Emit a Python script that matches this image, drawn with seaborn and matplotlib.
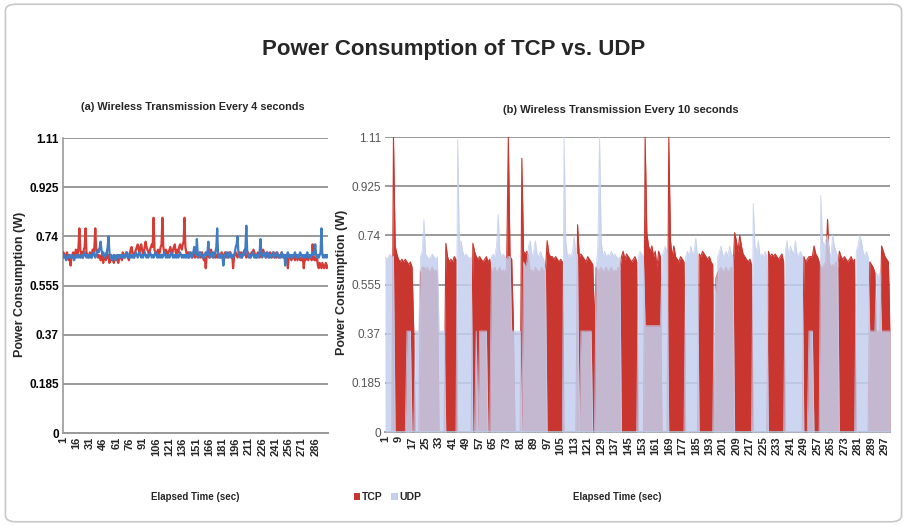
import matplotlib
matplotlib.use('Agg')
import matplotlib.pyplot as plt
import seaborn as sns
import pandas as pd
from matplotlib.patches import FancyBboxPatch, Patch

sns.set_theme(style='white')
plt.rcParams['font.family'] = ['Liberation Sans Narrow', 'Liberation Sans', 'DejaVu Sans']

# ---------------- data ----------------
TITLE = "Power Consumption of TCP vs. UDP"
SUB_A = "(a) Wireless Transmission Every 4 seconds"
SUB_B = "(b) Wireless Transmission Every 10 seconds"
XLABEL = "Elapsed Time (sec)"
YLABEL = "Power Consumption (W)"
SERIES = ["TCP", "UDP"]

Y_TICKS = [0, 0.185, 0.37, 0.555, 0.74, 0.925, 1.11]
Y_TICK_LABELS = ["0", "0.185", "0.37", "0.555", "0.74", "0.925", "1.11"]

X_TICKS_A = [1, 16, 31, 46, 61, 76, 91, 106, 121, 136, 151, 166, 181, 196,
             211, 226, 241, 256, 271, 286]
X_TICKS_B = [1, 9, 17, 25, 33, 41, 49, 57, 65, 73, 81, 89, 97, 105, 113, 121,
             129, 137, 145, 153, 161, 169, 177, 185, 193, 201, 209, 217, 225,
             233, 241, 249, 257, 265, 273, 281, 289, 297]

TCP_A = [
    0.68, 0.67, 0.66, 0.67, 0.68, 0.66, 0.65, 0.67, 0.63, 0.66, 0.67, 0.68, 0.66, 0.67, 0.69, 0.68, 0.67, 0.70, 0.77, 0.69,
    0.67, 0.68, 0.66, 0.69, 0.70, 0.77, 0.68, 0.67, 0.66, 0.67, 0.68, 0.67, 0.66, 0.69, 0.68, 0.70, 0.77, 0.69, 0.67, 0.66,
    0.67, 0.66, 0.65, 0.67, 0.66, 0.64, 0.67, 0.66, 0.65, 0.68, 0.66, 0.67, 0.64, 0.66, 0.67, 0.65, 0.66, 0.64, 0.67, 0.66,
    0.65, 0.67, 0.64, 0.66, 0.67, 0.66, 0.65, 0.68, 0.67, 0.66, 0.67, 0.68, 0.67, 0.66, 0.65, 0.67, 0.69, 0.70, 0.68, 0.67,
    0.66, 0.68, 0.69, 0.70, 0.71, 0.69, 0.68, 0.70, 0.71, 0.69, 0.67, 0.68, 0.70, 0.72, 0.70, 0.69, 0.68, 0.67, 0.69, 0.70,
    0.71, 0.70, 0.81, 0.69, 0.68, 0.67, 0.68, 0.69, 0.67, 0.68, 0.70, 0.71, 0.81, 0.70, 0.68, 0.67, 0.69, 0.68, 0.67, 0.68,
    0.69, 0.70, 0.68, 0.67, 0.69, 0.70, 0.71, 0.68, 0.67, 0.69, 0.68, 0.70, 0.71, 0.70, 0.69, 0.71, 0.72, 0.81, 0.70, 0.68,
    0.67, 0.68, 0.66, 0.67, 0.68, 0.67, 0.66, 0.68, 0.67, 0.66, 0.67, 0.68, 0.66, 0.67, 0.68, 0.66, 0.67, 0.68, 0.66, 0.65,
    0.66, 0.62, 0.66, 0.67, 0.68, 0.66, 0.67, 0.69, 0.67, 0.66, 0.68, 0.67, 0.66, 0.67, 0.66, 0.68, 0.67, 0.66, 0.67, 0.68,
    0.67, 0.66, 0.67, 0.68, 0.66, 0.67, 0.68, 0.66, 0.67, 0.68, 0.66, 0.67, 0.62, 0.66, 0.67, 0.68, 0.67, 0.66, 0.67, 0.68,
    0.67, 0.68, 0.66, 0.67, 0.68, 0.69, 0.67, 0.66, 0.67, 0.68, 0.67, 0.66, 0.67, 0.68, 0.67, 0.69, 0.68, 0.67, 0.66, 0.67,
    0.68, 0.67, 0.66, 0.67, 0.68, 0.67, 0.69, 0.68, 0.67, 0.66, 0.68, 0.67, 0.66, 0.67, 0.68, 0.67, 0.66, 0.67, 0.68, 0.66,
    0.67, 0.66, 0.68, 0.67, 0.66, 0.67, 0.66, 0.68, 0.67, 0.66, 0.67, 0.66, 0.67, 0.66, 0.62, 0.66, 0.67, 0.66, 0.65, 0.66,
    0.67, 0.66, 0.65, 0.67, 0.66, 0.65, 0.67, 0.66, 0.65, 0.66, 0.65, 0.66, 0.62, 0.66, 0.65, 0.67, 0.66, 0.65, 0.66, 0.67,
    0.66, 0.65, 0.71, 0.67, 0.65, 0.66, 0.65, 0.66, 0.63, 0.62, 0.64, 0.63, 0.62, 0.64, 0.63, 0.62, 0.63, 0.64, 0.62, 0.63,
]

UDP_A = [
    0.66, 0.67, 0.66, 0.65, 0.66, 0.67, 0.66, 0.67, 0.66, 0.66, 0.67, 0.66, 0.65, 0.66, 0.67, 0.66, 0.67, 0.66, 0.67, 0.66,
    0.66, 0.67, 0.66, 0.67, 0.68, 0.67, 0.66, 0.67, 0.66, 0.67, 0.66, 0.67, 0.66, 0.67, 0.68, 0.67, 0.66, 0.67, 0.68, 0.69,
    0.68, 0.70, 0.72, 0.69, 0.67, 0.68, 0.67, 0.66, 0.67, 0.68, 0.70, 0.74, 0.68, 0.66, 0.67, 0.65, 0.66, 0.67, 0.66, 0.65,
    0.66, 0.67, 0.66, 0.67, 0.66, 0.67, 0.66, 0.67, 0.66, 0.67, 0.66, 0.67, 0.68, 0.67, 0.66, 0.67, 0.66, 0.67, 0.66, 0.67,
    0.66, 0.67, 0.68, 0.67, 0.66, 0.67, 0.68, 0.67, 0.66, 0.67, 0.66, 0.67, 0.68, 0.67, 0.66, 0.67, 0.66, 0.67, 0.68, 0.67,
    0.66, 0.67, 0.66, 0.67, 0.68, 0.67, 0.66, 0.67, 0.66, 0.67, 0.66, 0.67, 0.66, 0.67, 0.68, 0.67, 0.66, 0.67, 0.66, 0.67,
    0.66, 0.67, 0.68, 0.67, 0.66, 0.67, 0.66, 0.67, 0.66, 0.67, 0.66, 0.67, 0.68, 0.67, 0.66, 0.67, 0.66, 0.67, 0.66, 0.67,
    0.66, 0.67, 0.66, 0.68, 0.67, 0.66, 0.67, 0.68, 0.70, 0.68, 0.67, 0.73, 0.67, 0.66, 0.67, 0.68, 0.67, 0.66, 0.67, 0.66,
    0.67, 0.68, 0.67, 0.68, 0.72, 0.67, 0.66, 0.67, 0.68, 0.67, 0.66, 0.67, 0.68, 0.70, 0.77, 0.67, 0.66, 0.67, 0.66, 0.67,
    0.66, 0.63, 0.66, 0.67, 0.68, 0.67, 0.66, 0.67, 0.68, 0.67, 0.66, 0.67, 0.66, 0.67, 0.68, 0.70, 0.71, 0.74, 0.68, 0.67,
    0.66, 0.67, 0.66, 0.67, 0.68, 0.67, 0.70, 0.78, 0.68, 0.67, 0.66, 0.67, 0.66, 0.67, 0.68, 0.67, 0.66, 0.67, 0.66, 0.67,
    0.66, 0.67, 0.68, 0.73, 0.67, 0.66, 0.67, 0.68, 0.67, 0.66, 0.67, 0.68, 0.67, 0.66, 0.67, 0.66, 0.67, 0.68, 0.67, 0.66,
    0.67, 0.68, 0.67, 0.66, 0.67, 0.66, 0.67, 0.68, 0.67, 0.66, 0.67, 0.63, 0.66, 0.67, 0.68, 0.67, 0.66, 0.67, 0.66, 0.67,
    0.66, 0.67, 0.68, 0.67, 0.66, 0.67, 0.66, 0.67, 0.68, 0.67, 0.66, 0.67, 0.66, 0.67, 0.66, 0.67, 0.68, 0.67, 0.66, 0.67,
    0.66, 0.67, 0.68, 0.67, 0.68, 0.71, 0.67, 0.66, 0.67, 0.66, 0.67, 0.68, 0.77, 0.67, 0.66, 0.67, 0.66, 0.67, 0.66, 0.67,
]

TCP_B = [
    0, 0, 0, 0, 0, 1.11, 0.70, 0.67, 0.65, 0.64,
    0.65, 0.64, 0.65, 0.64, 0.63, 0.64, 0.62, 0.38, 0, 0,
    0, 0.60, 0.62, 0.62, 0.61, 0.62, 0.60, 0.61, 0.62, 0.60,
    0.61, 0.60, 0, 0, 0, 0, 0.71, 0.66, 0.64, 0.65,
    0.64, 0.66, 0.65, 0, 0, 0, 0, 0, 0, 0,
    0, 0, 0.71, 0.68, 0.66, 0.65, 0.66, 0.65, 0.64, 0.65,
    0.66, 0.64, 0.65, 0.60, 0.61, 0.62, 0.60, 0.61, 0.62, 0.60,
    0.61, 0.60, 0.62, 1.11, 0.66, 0.65, 0.40, 0, 0, 0,
    0, 1.03, 0.68, 0.67, 0.68, 0.66, 0.60, 0.61, 0.60, 0.62,
    0.61, 0.60, 0.61, 0.62, 0.60, 0.61, 0.72, 0.67, 0.66, 0.66,
    0.65, 0.66, 0.65, 0.64, 0.65, 0.64, 0, 0, 0, 0,
    0, 0, 0, 0, 0.78, 0.66, 0.67, 0.66, 0.65, 0.64,
    0.66, 0.65, 0.64, 0.63, 0.40, 0.62, 0.60, 0.61, 0.62, 0.60,
    0.61, 0.62, 0.60, 0.61, 0.62, 0.60, 0.61, 0.60, 0.62, 0.61,
    0.66, 0.68, 0.65, 0.67, 0.66, 0.65, 0.64, 0.65, 0.66, 0.64,
    0, 0, 0, 0, 1.11, 0.75, 0.70, 0.68, 0.70, 0.66,
    0.68, 0.62, 0.68, 0.66, 0, 0, 0, 0, 1.11, 0.72,
    0.66, 0.70, 0.66, 0.65, 0.64, 0.66, 0.65, 0.64, 0, 0,
    0, 0, 0, 0, 0, 0, 0.67, 0.66, 0.68, 0.67,
    0.66, 0.65, 0.66, 0.64, 0.63, 0, 0.58, 0.60, 0.61, 0.62,
    0.60, 0.61, 0.62, 0.60, 0.61, 0.62, 0.60, 0.75, 0.72, 0.68,
    0.74, 0.70, 0.67, 0.66, 0.65, 0.64, 0.65, 0.63, 0, 0,
    0, 0, 0, 0, 0, 0, 0, 0.68, 0.66, 0.67,
    0.66, 0.67, 0.66, 0.65, 0.66, 0.67, 0.64, 0, 0, 0,
    0, 0, 0, 0, 0, 0, 0, 0, 0.66, 0.64,
    0.65, 0.66, 0.66, 0.66, 0.70, 0.67, 0.66, 0.64, 0.62, 0.62,
    0.63, 0.64, 0.80, 0.64, 0.62, 0.63, 0.62, 0.64, 0.62, 0.68,
    0.66, 0.65, 0.66, 0.65, 0.64, 0.65, 0.66, 0.64, 0.65, 0,
    0, 0, 0, 0, 0, 0, 0, 0.64, 0.63, 0.62,
    0.60, 0.38, 0.38, 0.38, 0.70, 0.68, 0.66, 0.65, 0.64, 0.38,
]

UDP_B = [
    0.66, 0.65, 0.66, 0.67, 0.66, 0.66, 0, 0, 0, 0,
    0, 0, 0, 0.38, 0.38, 0.38, 0, 0, 0.38, 0.38,
    0.38, 0.66, 0.68, 0.80, 0.67, 0.66, 0.65, 0.66, 0.67, 0.66,
    0.65, 0.66, 0.38, 0.38, 0.38, 0.38, 0, 0, 0, 0,
    0, 0, 0, 1.10, 0.70, 0.72, 0.68, 0.66, 0.67, 0.66,
    0.65, 0.66, 0, 0, 0.38, 0, 0.38, 0.38, 0.38, 0.38,
    0.38, 0, 0, 0.66, 0.67, 0.66, 0.70, 0.82, 0.68, 0.66,
    0.67, 0.66, 0.65, 0.66, 0.66, 0.38, 0.38, 0.38, 0.38, 0.38,
    0.38, 0, 0.64, 0.62, 0.64, 0.70, 0.72, 0.66, 0.68, 0.72,
    0.67, 0.66, 0.68, 0.66, 0.65, 0.60, 0, 0, 0, 0,
    0, 0, 0, 0, 0, 0, 1.11, 0.72, 0.66, 0.67,
    0.66, 0.68, 0.74, 0.66, 0.67, 0, 0.38, 0.38, 0.38, 0.38,
    0.38, 0.38, 0.38, 0, 0, 0.62, 0.70, 1.11, 0.72, 0.66,
    0.68, 0.66, 0.67, 0.66, 0.68, 0.66, 0.67, 0.66, 0.65, 0.66,
    0, 0, 0, 0, 0, 0, 0, 0, 0, 0,
    0.66, 0.68, 0.67, 0.66, 0.40, 0.40, 0.40, 0.40, 0.40, 0.40,
    0.40, 0.40, 0.40, 0.40, 0.66, 0.68, 0.70, 0.67, 0, 0,
    0, 0, 0, 0, 0, 0, 0, 0, 0.66, 0.68,
    0.66, 0.70, 0.67, 0.68, 0.73, 0.66, 0, 0, 0, 0,
    0, 0, 0, 0, 0, 0.55, 0.52, 0.66, 0.68, 0.70,
    0.66, 0.67, 0.68, 0.66, 0.70, 0.67, 0.66, 0, 0, 0,
    0, 0, 0, 0, 0, 0, 0, 0, 0.86, 0.70,
    0.68, 0.72, 0.66, 0.67, 0.66, 0.68, 0.66, 0, 0, 0,
    0, 0, 0, 0, 0, 0, 0, 0.68, 0.72, 0.66,
    0.70, 0.68, 0.67, 0.72, 0.66, 0.67, 0.68, 0.66, 0, 0,
    0, 0.38, 0.38, 0.38, 0, 0, 0, 0, 0.89, 0.72,
    0.70, 0.72, 0.74, 0.68, 0.66, 0.74, 0.70, 0.68, 0.66, 0,
    0, 0, 0, 0, 0, 0, 0, 0, 0, 0.68,
    0.70, 0.74, 0.72, 0.68, 0.66, 0.68, 0.66, 0.38, 0.38, 0.38,
    0.38, 0.60, 0.58, 0.60, 0.38, 0.38, 0.38, 0.38, 0.38, 0.38,
]

# ---------------- styling ----------------
RED_LINE = "#d63b35"
BLUE_LINE = "#3f7cc4"
RED_AREA = "#c9362f"
UDP_AREA = "#c4cfee"
GRID = "#9a9a9a"

t_a = list(range(1, len(TCP_A) + 1))
t_b = list(range(1, len(TCP_B) + 1))
df_a = pd.DataFrame({"t": t_a * 2, "power": TCP_A + UDP_A,
                     "protocol": [SERIES[0]] * len(TCP_A) + [SERIES[1]] * len(UDP_A)})
df_b = pd.DataFrame({"t": t_b, "TCP": TCP_B, "UDP": UDP_B})

fig = plt.figure(figsize=(9.07, 5.26), dpi=100)
fig.patch.set_facecolor("white")
fig.patches.append(FancyBboxPatch((0.006, 0.008), 0.988, 0.984,
                                  boxstyle="round,pad=0,rounding_size=0.012",
                                  transform=fig.transFigure, fill=False,
                                  edgecolor="#c8c8c8", linewidth=1.2))

ax1 = fig.add_axes([0.0695, 0.1768, 0.2922, 0.5608])
ax2 = fig.add_axes([0.4245, 0.1787, 0.5568, 0.5608])

# ---- panel (a) ----
sns.lineplot(data=df_a, x="t", y="power", hue="protocol",
             palette={SERIES[0]: RED_LINE, SERIES[1]: BLUE_LINE},
             hue_order=[SERIES[0], SERIES[1]],
             linewidth=1.6, ax=ax1, legend=False, zorder=3)
ax1.set_xlim(0.5, len(TCP_A) + 0.5)

# ---- panel (b) ----
ax2.fill_between(df_b["t"], 0, df_b["TCP"], color=RED_AREA, linewidth=0, zorder=2)
sns.lineplot(data=df_b, x="t", y="TCP", color=RED_AREA, linewidth=0.8, ax=ax2, zorder=2)
ax2.fill_between(df_b["t"], 0, df_b["UDP"], color=UDP_AREA, alpha=0.85, linewidth=0, zorder=3)
sns.lineplot(data=df_b, x="t", y="UDP", color=UDP_AREA, alpha=0.85, linewidth=0.6, ax=ax2, zorder=3)
ax2.set_xlim(1, len(TCP_B))

for ax, xt, bold_y in ((ax1, X_TICKS_A, True), (ax2, X_TICKS_B, False)):
    ax.set_ylim(0, 1.11)
    ax.set_yticks(Y_TICKS)
    ax.set_yticklabels(Y_TICK_LABELS, fontsize=8.5,
                       fontweight="bold" if bold_y else "normal",
                       color="black" if bold_y else "#555555")
    ax.set_xticks(xt)
    ax.set_xticklabels([str(v) for v in xt], rotation=90, fontsize=8,
                       fontweight="bold")
    ax.set_xlabel("")
    ax.set_ylabel("")
    ax.grid(axis="y", color=GRID, linewidth=1.4, zorder=0)
    ax.set_axisbelow(True)
    for s in ("top", "right"):
        ax.spines[s].set_visible(False)
    ax.spines["bottom"].set_color(GRID)
    ax.spines["bottom"].set_linewidth(1.4)
    ax.tick_params(axis="both", length=0, pad=3)

ax1.spines["left"].set_color(GRID)
ax1.spines["left"].set_linewidth(1.2)
ax2.spines["left"].set_visible(False)

# ---- texts ----
fig.text(0.5, 0.905, TITLE, ha="center", va="center", fontsize=16, fontweight="bold")
fig.text(0.213, 0.797, SUB_A, ha="center", va="center", fontsize=7.8, fontweight="bold")
fig.text(0.684, 0.791, SUB_B, ha="center", va="center", fontsize=8, fontweight="bold")
fig.text(0.022, 0.46, YLABEL, ha="center", va="center", rotation=90, fontsize=9, fontweight="bold")
fig.text(0.377, 0.463, YLABEL, ha="center", va="center", rotation=90, fontsize=9, fontweight="bold")
fig.text(0.215, 0.055, XLABEL, ha="center", va="center", fontsize=7, fontweight="bold")
fig.text(0.68, 0.055, XLABEL, ha="center", va="center", fontsize=7, fontweight="bold")

handles = [Patch(facecolor=RED_AREA, edgecolor="none", label=SERIES[0]),
           Patch(facecolor=UDP_AREA, edgecolor="none", label=SERIES[1])]
fig.legend(handles=handles, loc="center left", bbox_to_anchor=(0.38, 0.055),
           ncol=2, frameon=False, handlelength=0.6, handleheight=0.6,
           handletextpad=0.2, columnspacing=0.8,
           prop={"weight": "bold", "size": 7.5})

fig.savefig("out.png", dpi=100, facecolor="white")
